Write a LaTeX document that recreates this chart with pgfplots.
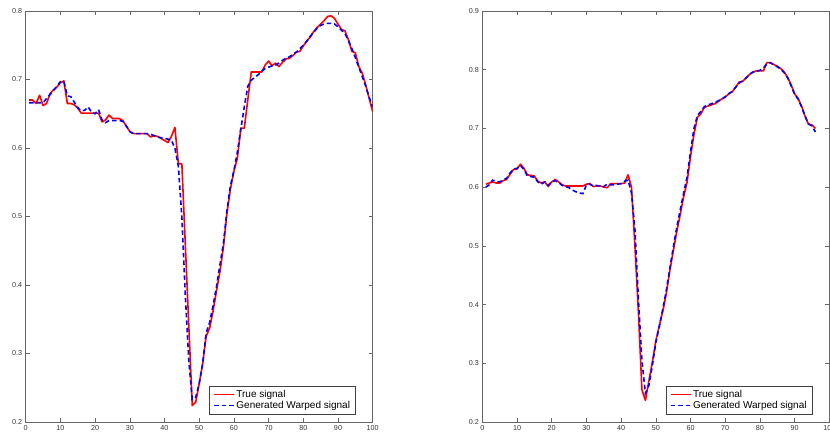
\documentclass[border=0pt]{standalone}
\usepackage{fontspec}
\setmainfont{Liberation Sans}
\usepackage{pgfplots}
\pgfplotsset{compat=1.18}
\usepackage{pgfplotstable}

\pgfplotstableread{
x y
1 0.670
2 0.670
3 0.665
4 0.677
5 0.662
6 0.665
7 0.679
8 0.685
9 0.689
10 0.695
11 0.698
12 0.665
13 0.665
14 0.663
15 0.658
16 0.651
17 0.651
18 0.651
19 0.651
20 0.651
21 0.651
22 0.638
23 0.641
24 0.648
25 0.643
26 0.643
27 0.643
28 0.640
29 0.632
30 0.624
31 0.621
32 0.621
33 0.621
34 0.621
35 0.621
36 0.616
37 0.618
38 0.617
39 0.614
40 0.611
41 0.608
42 0.617
43 0.630
44 0.577
45 0.577
46 0.459
47 0.341
48 0.224
49 0.229
50 0.256
51 0.285
52 0.325
53 0.337
54 0.362
55 0.392
56 0.420
57 0.456
58 0.505
59 0.540
60 0.566
61 0.585
62 0.629
63 0.629
64 0.670
65 0.711
66 0.711
67 0.711
68 0.711
69 0.721
70 0.727
71 0.720
72 0.724
73 0.719
74 0.725
75 0.730
76 0.731
77 0.735
78 0.740
79 0.741
80 0.749
81 0.756
82 0.762
83 0.770
84 0.776
85 0.781
86 0.786
87 0.792
88 0.793
89 0.789
90 0.781
91 0.773
92 0.771
93 0.758
94 0.741
95 0.739
96 0.719
97 0.709
98 0.692
99 0.672
100 0.653
}\leftred

\pgfplotstableread{
x y
1 0.666
2 0.666
3 0.666
4 0.666
5 0.666
6 0.672
7 0.678
8 0.684
9 0.690
10 0.697
11 0.697
12 0.676
13 0.675
14 0.667
15 0.659
16 0.654
17 0.655
18 0.660
19 0.652
20 0.650
21 0.656
22 0.641
23 0.637
24 0.640
25 0.640
26 0.640
27 0.640
28 0.639
29 0.632
30 0.624
31 0.621
32 0.621
33 0.621
34 0.621
35 0.621
36 0.620
37 0.618
38 0.616
39 0.615
40 0.614
41 0.613
42 0.611
43 0.600
44 0.573
45 0.500
46 0.385
47 0.290
48 0.233
49 0.236
50 0.256
51 0.285
52 0.330
53 0.345
54 0.370
55 0.398
56 0.430
57 0.462
58 0.508
59 0.545
60 0.567
61 0.594
62 0.628
63 0.660
64 0.690
65 0.699
66 0.703
67 0.707
68 0.712
69 0.716
70 0.718
71 0.720
72 0.721
73 0.724
74 0.728
75 0.731
76 0.733
77 0.737
78 0.740
79 0.745
80 0.750
81 0.756
82 0.763
83 0.769
84 0.775
85 0.779
86 0.781
87 0.782
88 0.782
89 0.781
90 0.777
91 0.772
92 0.767
93 0.757
94 0.745
95 0.732
96 0.718
97 0.704
98 0.690
99 0.674
100 0.660
}\leftblue

\pgfplotstableread{
x y
1 0.605
2 0.607
3 0.609
4 0.607
5 0.607
6 0.611
7 0.613
8 0.622
9 0.630
10 0.631
11 0.639
12 0.632
13 0.621
14 0.620
15 0.619
16 0.610
17 0.607
18 0.609
19 0.601
20 0.609
21 0.613
22 0.609
23 0.604
24 0.602
25 0.602
26 0.602
27 0.602
28 0.602
29 0.602
30 0.605
31 0.606
32 0.601
33 0.602
34 0.602
35 0.600
36 0.599
37 0.606
38 0.606
39 0.606
40 0.606
41 0.607
42 0.621
43 0.600
44 0.498
45 0.385
46 0.255
47 0.237
48 0.270
49 0.302
50 0.338
51 0.364
52 0.388
53 0.418
54 0.456
55 0.490
56 0.523
57 0.552
58 0.583
59 0.608
60 0.652
61 0.690
62 0.719
63 0.725
64 0.736
65 0.738
66 0.740
67 0.742
68 0.746
69 0.750
70 0.753
71 0.759
72 0.762
73 0.770
74 0.779
75 0.780
76 0.786
77 0.792
78 0.796
79 0.798
80 0.798
81 0.798
82 0.812
83 0.812
84 0.809
85 0.806
86 0.802
87 0.796
88 0.787
89 0.774
90 0.759
91 0.751
92 0.738
93 0.721
94 0.707
95 0.706
96 0.700
}\rightred

\pgfplotstableread{
x y
1 0.600
2 0.604
3 0.612
4 0.610
5 0.609
6 0.612
7 0.615
8 0.624
9 0.631
10 0.632
11 0.637
12 0.630
13 0.619
14 0.618
15 0.617
16 0.609
17 0.605
18 0.609
19 0.603
20 0.609
21 0.611
22 0.608
23 0.603
24 0.601
25 0.599
26 0.595
27 0.592
28 0.590
29 0.589
30 0.604
31 0.605
32 0.602
33 0.603
34 0.601
35 0.601
36 0.605
37 0.604
38 0.604
39 0.605
40 0.606
41 0.610
42 0.612
43 0.590
44 0.527
45 0.408
46 0.305
47 0.249
48 0.262
49 0.296
50 0.335
51 0.362
52 0.392
53 0.423
54 0.460
55 0.496
56 0.530
57 0.560
58 0.589
59 0.617
60 0.660
61 0.700
62 0.722
63 0.729
64 0.737
65 0.740
66 0.742
67 0.744
68 0.747
69 0.750
70 0.754
71 0.759
72 0.763
73 0.770
74 0.777
75 0.781
76 0.786
77 0.792
78 0.796
79 0.797
80 0.799
81 0.803
82 0.810
83 0.812
84 0.808
85 0.805
86 0.801
87 0.795
88 0.786
89 0.773
90 0.758
91 0.750
92 0.737
93 0.721
94 0.708
95 0.704
96 0.694
}\rightblue

\begin{document}
\begin{tikzpicture}[x=1pt,y=1pt]
\pgfplotsset{
  myax/.style={
    scale only axis, width=347pt, height=411pt,
    xmin=0, xmax=100, xtick={0,10,20,30,40,50,60,70,80,90,100},
    axis line style={black!60, line width=0.5pt},
    tick style={black!60, line width=0.5pt},
    major tick length=4pt, tick align=inside,
    ticklabel style={font=\fontsize{7.2}{8}\selectfont, text=black!78},
    /pgf/number format/assume math mode=true,
    yticklabel style={/pgf/number format/fixed, /pgf/number format/precision=1},
    legend cell align=left,
    legend style={at={(0.951,0.0195)}, anchor=south east, draw=black!75,
      font=\fontsize{10}{11}\selectfont, inner xsep=4pt, inner ysep=2.5pt,
      row sep=-1pt, nodes={inner sep=1.5pt}},
    legend image code/.code={\draw[##1, line width=1.6pt] (0pt,0pt) -- (20pt,0pt);},
  }
}
\begin{axis}[myax, at={(25.7pt,12pt)}, anchor=south west,
  ymin=0.2, ymax=0.8, ytick={0.2,0.3,0.4,0.5,0.6,0.7,0.8}]
\addplot[red, line width=1.6pt, line join=round] table[x=x,y=y] {\leftred};
\addlegendentry{True signal}
\addplot[blue, line width=1.6pt, dash pattern=on 4.5pt off 3pt] table[x=x,y=y] {\leftblue};
\addlegendentry{Generated Warped signal}
\end{axis}
\begin{axis}[myax, at={(482.3pt,12pt)}, anchor=south west,
  ymin=0.2, ymax=0.9, ytick={0.2,0.3,0.4,0.5,0.6,0.7,0.8,0.9}]
\addplot[red, line width=1.6pt, line join=round] table[x=x,y=y] {\rightred};
\addlegendentry{True signal}
\addplot[blue, line width=1.6pt, dash pattern=on 4.5pt off 3pt] table[x=x,y=y] {\rightblue};
\addlegendentry{Generated Warped signal}
\end{axis}
\pgfresetboundingbox
\path[use as bounding box] (0,0) rectangle (830,434);
\end{tikzpicture}
\end{document}
